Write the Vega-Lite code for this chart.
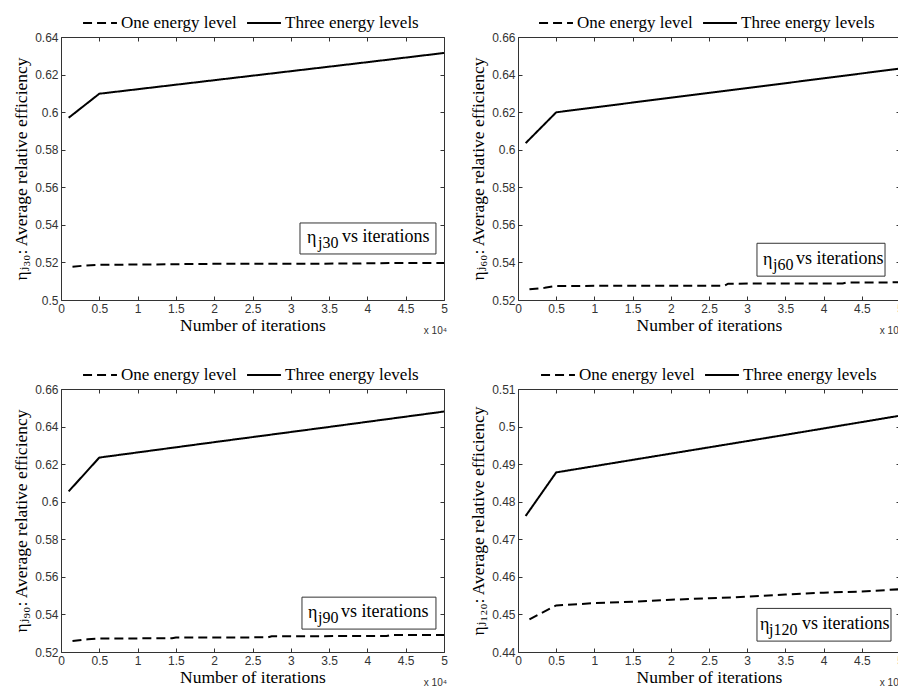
{
  "$schema": "https://vega.github.io/schema/vega-lite/v6.json",
  "padding": {"left": 12, "top": 4, "right": 0, "bottom": 0},
  "background": "white",
  "datasets": {
    "j30": [
      {"iterations": 1500, "efficiency": 0.5177, "series": "One energy level"},
      {"iterations": 3000, "efficiency": 0.5183, "series": "One energy level"},
      {"iterations": 5000, "efficiency": 0.5187, "series": "One energy level"},
      {"iterations": 10000, "efficiency": 0.5189, "series": "One energy level"},
      {"iterations": 15500, "efficiency": 0.519, "series": "One energy level"},
      {"iterations": 16000, "efficiency": 0.5192, "series": "One energy level"},
      {"iterations": 27000, "efficiency": 0.5193, "series": "One energy level"},
      {"iterations": 39000, "efficiency": 0.5194, "series": "One energy level"},
      {"iterations": 39500, "efficiency": 0.5196, "series": "One energy level"},
      {"iterations": 50000, "efficiency": 0.5197, "series": "One energy level"},
      {"iterations": 1000, "efficiency": 0.597, "series": "Three energy levels"},
      {"iterations": 5000, "efficiency": 0.6098, "series": "Three energy levels"},
      {"iterations": 10000, "efficiency": 0.6122, "series": "Three energy levels"},
      {"iterations": 20000, "efficiency": 0.617, "series": "Three energy levels"},
      {"iterations": 30000, "efficiency": 0.6218, "series": "Three energy levels"},
      {"iterations": 40000, "efficiency": 0.6266, "series": "Three energy levels"},
      {"iterations": 50000, "efficiency": 0.6315, "series": "Three energy levels"}
    ],
    "j60": [
      {"iterations": 1500, "efficiency": 0.5257, "series": "One energy level"},
      {"iterations": 3500, "efficiency": 0.5265, "series": "One energy level"},
      {"iterations": 5000, "efficiency": 0.5275, "series": "One energy level"},
      {"iterations": 27000, "efficiency": 0.5276, "series": "One energy level"},
      {"iterations": 27500, "efficiency": 0.5287, "series": "One energy level"},
      {"iterations": 42500, "efficiency": 0.5288, "series": "One energy level"},
      {"iterations": 43000, "efficiency": 0.5293, "series": "One energy level"},
      {"iterations": 50000, "efficiency": 0.5294, "series": "One energy level"},
      {"iterations": 1000, "efficiency": 0.6035, "series": "Three energy levels"},
      {"iterations": 5000, "efficiency": 0.6199, "series": "Three energy levels"},
      {"iterations": 20000, "efficiency": 0.6277, "series": "Three energy levels"},
      {"iterations": 35000, "efficiency": 0.6354, "series": "Three energy levels"},
      {"iterations": 50000, "efficiency": 0.6432, "series": "Three energy levels"}
    ],
    "j90": [
      {"iterations": 1500, "efficiency": 0.5258, "series": "One energy level"},
      {"iterations": 3500, "efficiency": 0.5268, "series": "One energy level"},
      {"iterations": 5000, "efficiency": 0.5272, "series": "One energy level"},
      {"iterations": 14500, "efficiency": 0.5273, "series": "One energy level"},
      {"iterations": 15000, "efficiency": 0.5277, "series": "One energy level"},
      {"iterations": 27000, "efficiency": 0.5278, "series": "One energy level"},
      {"iterations": 27500, "efficiency": 0.5284, "series": "One energy level"},
      {"iterations": 42500, "efficiency": 0.5285, "series": "One energy level"},
      {"iterations": 43000, "efficiency": 0.529, "series": "One energy level"},
      {"iterations": 50000, "efficiency": 0.5291, "series": "One energy level"},
      {"iterations": 1000, "efficiency": 0.6055, "series": "Three energy levels"},
      {"iterations": 5000, "efficiency": 0.6235, "series": "Three energy levels"},
      {"iterations": 20000, "efficiency": 0.6317, "series": "Three energy levels"},
      {"iterations": 35000, "efficiency": 0.6398, "series": "Three energy levels"},
      {"iterations": 50000, "efficiency": 0.648, "series": "Three energy levels"}
    ],
    "j120": [
      {"iterations": 1500, "efficiency": 0.4487, "series": "One energy level"},
      {"iterations": 5000, "efficiency": 0.4524, "series": "One energy level"},
      {"iterations": 10000, "efficiency": 0.453, "series": "One energy level"},
      {"iterations": 15000, "efficiency": 0.4534, "series": "One energy level"},
      {"iterations": 20000, "efficiency": 0.4539, "series": "One energy level"},
      {"iterations": 25000, "efficiency": 0.4543, "series": "One energy level"},
      {"iterations": 30000, "efficiency": 0.4547, "series": "One energy level"},
      {"iterations": 35000, "efficiency": 0.4553, "series": "One energy level"},
      {"iterations": 40000, "efficiency": 0.4558, "series": "One energy level"},
      {"iterations": 45000, "efficiency": 0.4561, "series": "One energy level"},
      {"iterations": 50000, "efficiency": 0.4567, "series": "One energy level"},
      {"iterations": 1000, "efficiency": 0.4762, "series": "Three energy levels"},
      {"iterations": 5000, "efficiency": 0.4878, "series": "Three energy levels"},
      {"iterations": 20000, "efficiency": 0.4928, "series": "Three energy levels"},
      {"iterations": 35000, "efficiency": 0.4978, "series": "Three energy levels"},
      {"iterations": 50000, "efficiency": 0.5029, "series": "Three energy levels"}
    ]
  },
  "columns": 2,
  "bounds": "flush",
  "spacing": {"row": 89, "column": 74},
  "resolve": {"scale": {"x": "independent", "y": "independent", "strokeDash": "independent"}, "legend": {"strokeDash": "independent"}},
  "concat": [
    {
      "width": 383, "height": 263,
      "resolve": {"axis": {"x": "independent", "y": "independent"}},
      "layer": [
        {
          "data": {"name": "j30"},
          "mark": {"type": "line", "color": "black", "strokeWidth": 2},
          "encoding": {
            "x": {"field": "iterations", "type": "quantitative", "scale": {"domain": [0, 50000], "nice": false, "zero": false},
                  "axis": {"orient": "bottom", "values": [0,5000,10000,15000,20000,25000,30000,35000,40000,45000,50000], "labelExpr": "datum.value/10000", "title": "Number of iterations"}},
            "y": {"field": "efficiency", "type": "quantitative", "scale": {"domain": [0.5, 0.64], "nice": false, "zero": false},
                  "axis": {"orient": "left", "values": [0.5,0.52,0.54,0.56,0.58,0.6,0.62,0.64], "format": ".2~f", "title": "ηⱼ₃₀: Average relative efficiency"}},
            "strokeDash": {"field": "series", "type": "nominal", "scale": {"domain": ["One energy level", "Three energy levels"], "range": [[9, 5], [1, 0]]},
                  "legend": {"orient": "none", "legendX": 21, "legendY": -32, "direction": "horizontal", "title": null}}
          }
        },
        {
          "data": {"name": "j30"},
          "mark": {"type": "line", "opacity": 0},
          "encoding": {
            "x": {"field": "iterations", "type": "quantitative", "axis": {"orient": "top", "values": [0,5000,10000,15000,20000,25000,30000,35000,40000,45000,50000], "labels": false, "title": null}},
            "y": {"field": "efficiency", "type": "quantitative", "axis": {"orient": "right", "values": [0.5,0.52,0.54,0.56,0.58,0.6,0.62,0.64], "labels": false, "title": null}},
            "detail": {"field": "series"}
          }
        },
        {
          "data": {"values": [{}]},
          "mark": {"type": "rect", "fill": "white", "stroke": "#333333", "strokeWidth": 1},
          "encoding": {
            "x": {"datum": 31200, "type": "quantitative", "axis": null}, "x2": {"datum": 48950},
            "y": {"datum": 0.541, "type": "quantitative", "axis": null}, "y2": {"datum": 0.5245}
          }
        },
        {
          "data": {"values": [{"t": "η"}]},
          "mark": {"type": "text", "align": "left", "baseline": "alphabetic", "dx": 7, "dy": 5, "font": "Liberation Serif, Times New Roman, DejaVu Serif, serif", "fontSize": 18, "color": "black"},
          "encoding": {"x": {"datum": 31200, "type": "quantitative", "axis": null}, "y": {"datum": 0.53275, "type": "quantitative", "axis": null}, "text": {"field": "t"}}
        },
        {
          "data": {"values": [{"t": "j30"}]},
          "mark": {"type": "text", "align": "left", "baseline": "alphabetic", "dx": 18, "dy": 10, "font": "Liberation Serif, Times New Roman, DejaVu Serif, serif", "fontSize": 16, "color": "black"},
          "encoding": {"x": {"datum": 31200, "type": "quantitative", "axis": null}, "y": {"datum": 0.53275, "type": "quantitative", "axis": null}, "text": {"field": "t"}}
        },
        {
          "data": {"values": [{"t": "vs iterations"}]},
          "mark": {"type": "text", "align": "left", "baseline": "alphabetic", "dx": 42, "dy": 4, "font": "Liberation Serif, Times New Roman, DejaVu Serif, serif", "fontSize": 18, "color": "black"},
          "encoding": {"x": {"datum": 31200, "type": "quantitative", "axis": null}, "y": {"datum": 0.53275, "type": "quantitative", "axis": null}, "text": {"field": "t"}}
        },
        {
          "data": {"values": [{"t": "x 10⁴"}]},
          "mark": {"type": "text", "align": "right", "baseline": "alphabetic", "dx": 3, "dy": 34, "font": "Liberation Sans", "fontSize": 10, "color": "#333333"},
          "encoding": {"x": {"datum": 50000, "type": "quantitative", "axis": null}, "y": {"datum": 0.5, "type": "quantitative", "axis": null}, "text": {"field": "t"}}
        }
      ]
    },
    {
      "width": 382, "height": 263,
      "resolve": {"axis": {"x": "independent", "y": "independent"}},
      "layer": [
        {
          "data": {"name": "j60"},
          "mark": {"type": "line", "color": "black", "strokeWidth": 2},
          "encoding": {
            "x": {"field": "iterations", "type": "quantitative", "scale": {"domain": [0, 50000], "nice": false, "zero": false},
                  "axis": {"orient": "bottom", "values": [0,5000,10000,15000,20000,25000,30000,35000,40000,45000,50000], "labelExpr": "datum.value/10000", "title": "Number of iterations"}},
            "y": {"field": "efficiency", "type": "quantitative", "scale": {"domain": [0.52, 0.66], "nice": false, "zero": false},
                  "axis": {"orient": "left", "values": [0.52,0.54,0.56,0.58,0.6,0.62,0.64,0.66], "format": ".2~f", "title": "ηⱼ₆₀: Average relative efficiency"}},
            "strokeDash": {"field": "series", "type": "nominal", "scale": {"domain": ["One energy level", "Three energy levels"], "range": [[9, 5], [1, 0]]},
                  "legend": {"orient": "none", "legendX": 20, "legendY": -32, "direction": "horizontal", "title": null}}
          }
        },
        {
          "data": {"name": "j60"},
          "mark": {"type": "line", "opacity": 0},
          "encoding": {
            "x": {"field": "iterations", "type": "quantitative", "axis": {"orient": "top", "values": [0,5000,10000,15000,20000,25000,30000,35000,40000,45000,50000], "labels": false, "title": null}},
            "y": {"field": "efficiency", "type": "quantitative", "axis": {"orient": "right", "values": [0.52,0.54,0.56,0.58,0.6,0.62,0.64,0.66], "labels": false, "title": null}},
            "detail": {"field": "series"}
          }
        },
        {
          "data": {"values": [{}]},
          "mark": {"type": "rect", "fill": "white", "stroke": "#333333", "strokeWidth": 1},
          "encoding": {
            "x": {"datum": 31280, "type": "quantitative", "axis": null}, "x2": {"datum": 48040},
            "y": {"datum": 0.5502, "type": "quantitative", "axis": null}, "y2": {"datum": 0.5327}
          }
        },
        {
          "data": {"values": [{"t": "η"}]},
          "mark": {"type": "text", "align": "left", "baseline": "alphabetic", "dx": 6, "dy": 5, "font": "Liberation Serif, Times New Roman, DejaVu Serif, serif", "fontSize": 18, "color": "black"},
          "encoding": {"x": {"datum": 31280, "type": "quantitative", "axis": null}, "y": {"datum": 0.54145, "type": "quantitative", "axis": null}, "text": {"field": "t"}}
        },
        {
          "data": {"values": [{"t": "j60"}]},
          "mark": {"type": "text", "align": "left", "baseline": "alphabetic", "dx": 16, "dy": 10, "font": "Liberation Serif, Times New Roman, DejaVu Serif, serif", "fontSize": 16, "color": "black"},
          "encoding": {"x": {"datum": 31280, "type": "quantitative", "axis": null}, "y": {"datum": 0.54145, "type": "quantitative", "axis": null}, "text": {"field": "t"}}
        },
        {
          "data": {"values": [{"t": "vs iterations"}]},
          "mark": {"type": "text", "align": "left", "baseline": "alphabetic", "dx": 39, "dy": 4, "font": "Liberation Serif, Times New Roman, DejaVu Serif, serif", "fontSize": 18, "color": "black"},
          "encoding": {"x": {"datum": 31280, "type": "quantitative", "axis": null}, "y": {"datum": 0.54145, "type": "quantitative", "axis": null}, "text": {"field": "t"}}
        },
        {
          "data": {"values": [{"t": "x 10⁴"}]},
          "mark": {"type": "text", "align": "right", "baseline": "alphabetic", "dx": 3, "dy": 34, "font": "Liberation Sans", "fontSize": 10, "color": "#333333"},
          "encoding": {"x": {"datum": 50000, "type": "quantitative", "axis": null}, "y": {"datum": 0.52, "type": "quantitative", "axis": null}, "text": {"field": "t"}}
        }
      ]
    },
    {
      "width": 383, "height": 263,
      "resolve": {"axis": {"x": "independent", "y": "independent"}},
      "layer": [
        {
          "data": {"name": "j90"},
          "mark": {"type": "line", "color": "black", "strokeWidth": 2},
          "encoding": {
            "x": {"field": "iterations", "type": "quantitative", "scale": {"domain": [0, 50000], "nice": false, "zero": false},
                  "axis": {"orient": "bottom", "values": [0,5000,10000,15000,20000,25000,30000,35000,40000,45000,50000], "labelExpr": "datum.value/10000", "title": "Number of iterations"}},
            "y": {"field": "efficiency", "type": "quantitative", "scale": {"domain": [0.52, 0.66], "nice": false, "zero": false},
                  "axis": {"orient": "left", "values": [0.52,0.54,0.56,0.58,0.6,0.62,0.64,0.66], "format": ".2~f", "title": "ηⱼ₉₀: Average relative efficiency"}},
            "strokeDash": {"field": "series", "type": "nominal", "scale": {"domain": ["One energy level", "Three energy levels"], "range": [[9, 5], [1, 0]]},
                  "legend": {"orient": "none", "legendX": 21, "legendY": -32, "direction": "horizontal", "title": null}}
          }
        },
        {
          "data": {"name": "j90"},
          "mark": {"type": "line", "opacity": 0},
          "encoding": {
            "x": {"field": "iterations", "type": "quantitative", "axis": {"orient": "top", "values": [0,5000,10000,15000,20000,25000,30000,35000,40000,45000,50000], "labels": false, "title": null}},
            "y": {"field": "efficiency", "type": "quantitative", "axis": {"orient": "right", "values": [0.52,0.54,0.56,0.58,0.6,0.62,0.64,0.66], "labels": false, "title": null}},
            "detail": {"field": "series"}
          }
        },
        {
          "data": {"values": [{}]},
          "mark": {"type": "rect", "fill": "white", "stroke": "#333333", "strokeWidth": 1},
          "encoding": {
            "x": {"datum": 31460, "type": "quantitative", "axis": null}, "x2": {"datum": 48950},
            "y": {"datum": 0.5492, "type": "quantitative", "axis": null}, "y2": {"datum": 0.5322}
          }
        },
        {
          "data": {"values": [{"t": "η"}]},
          "mark": {"type": "text", "align": "left", "baseline": "alphabetic", "dx": 6, "dy": 5, "font": "Liberation Serif, Times New Roman, DejaVu Serif, serif", "fontSize": 18, "color": "black"},
          "encoding": {"x": {"datum": 31460, "type": "quantitative", "axis": null}, "y": {"datum": 0.5407, "type": "quantitative", "axis": null}, "text": {"field": "t"}}
        },
        {
          "data": {"values": [{"t": "j90"}]},
          "mark": {"type": "text", "align": "left", "baseline": "alphabetic", "dx": 16, "dy": 10, "font": "Liberation Serif, Times New Roman, DejaVu Serif, serif", "fontSize": 16, "color": "black"},
          "encoding": {"x": {"datum": 31460, "type": "quantitative", "axis": null}, "y": {"datum": 0.5407, "type": "quantitative", "axis": null}, "text": {"field": "t"}}
        },
        {
          "data": {"values": [{"t": "vs iterations"}]},
          "mark": {"type": "text", "align": "left", "baseline": "alphabetic", "dx": 39, "dy": 4, "font": "Liberation Serif, Times New Roman, DejaVu Serif, serif", "fontSize": 18, "color": "black"},
          "encoding": {"x": {"datum": 31460, "type": "quantitative", "axis": null}, "y": {"datum": 0.5407, "type": "quantitative", "axis": null}, "text": {"field": "t"}}
        },
        {
          "data": {"values": [{"t": "x 10⁴"}]},
          "mark": {"type": "text", "align": "right", "baseline": "alphabetic", "dx": 3, "dy": 34, "font": "Liberation Sans", "fontSize": 10, "color": "#333333"},
          "encoding": {"x": {"datum": 50000, "type": "quantitative", "axis": null}, "y": {"datum": 0.52, "type": "quantitative", "axis": null}, "text": {"field": "t"}}
        }
      ]
    },
    {
      "width": 382, "height": 263,
      "resolve": {"axis": {"x": "independent", "y": "independent"}},
      "layer": [
        {
          "data": {"name": "j120"},
          "mark": {"type": "line", "color": "black", "strokeWidth": 2},
          "encoding": {
            "x": {"field": "iterations", "type": "quantitative", "scale": {"domain": [0, 50000], "nice": false, "zero": false},
                  "axis": {"orient": "bottom", "values": [0,5000,10000,15000,20000,25000,30000,35000,40000,45000,50000], "labelExpr": "datum.value/10000", "title": "Number of iterations"}},
            "y": {"field": "efficiency", "type": "quantitative", "scale": {"domain": [0.44, 0.51], "nice": false, "zero": false},
                  "axis": {"orient": "left", "values": [0.44,0.45,0.46,0.47,0.48,0.49,0.5,0.51], "format": ".2~f", "title": "ηⱼ₁₂₀: Average relative efficiency"}},
            "strokeDash": {"field": "series", "type": "nominal", "scale": {"domain": ["One energy level", "Three energy levels"], "range": [[9, 5], [1, 0]]},
                  "legend": {"orient": "none", "legendX": 22, "legendY": -32, "direction": "horizontal", "title": null}}
          }
        },
        {
          "data": {"name": "j120"},
          "mark": {"type": "line", "opacity": 0},
          "encoding": {
            "x": {"field": "iterations", "type": "quantitative", "axis": {"orient": "top", "values": [0,5000,10000,15000,20000,25000,30000,35000,40000,45000,50000], "labels": false, "title": null}},
            "y": {"field": "efficiency", "type": "quantitative", "axis": {"orient": "right", "values": [0.44,0.45,0.46,0.47,0.48,0.49,0.5,0.51], "labels": false, "title": null}},
            "detail": {"field": "series"}
          }
        },
        {
          "data": {"values": [{}]},
          "mark": {"type": "rect", "fill": "white", "stroke": "#333333", "strokeWidth": 1},
          "encoding": {
            "x": {"datum": 31280, "type": "quantitative", "axis": null}, "x2": {"datum": 48820},
            "y": {"datum": 0.4516, "type": "quantitative", "axis": null}, "y2": {"datum": 0.4429}
          }
        },
        {
          "data": {"values": [{"t": "η"}]},
          "mark": {"type": "text", "align": "left", "baseline": "alphabetic", "dx": 3, "dy": 5, "font": "Liberation Serif, Times New Roman, DejaVu Serif, serif", "fontSize": 18, "color": "black"},
          "encoding": {"x": {"datum": 31280, "type": "quantitative", "axis": null}, "y": {"datum": 0.44725, "type": "quantitative", "axis": null}, "text": {"field": "t"}}
        },
        {
          "data": {"values": [{"t": "j120"}]},
          "mark": {"type": "text", "align": "left", "baseline": "alphabetic", "dx": 12, "dy": 10, "font": "Liberation Serif, Times New Roman, DejaVu Serif, serif", "fontSize": 16, "color": "black"},
          "encoding": {"x": {"datum": 31280, "type": "quantitative", "axis": null}, "y": {"datum": 0.44725, "type": "quantitative", "axis": null}, "text": {"field": "t"}}
        },
        {
          "data": {"values": [{"t": "vs iterations"}]},
          "mark": {"type": "text", "align": "left", "baseline": "alphabetic", "dx": 45, "dy": 4, "font": "Liberation Serif, Times New Roman, DejaVu Serif, serif", "fontSize": 18, "color": "black"},
          "encoding": {"x": {"datum": 31280, "type": "quantitative", "axis": null}, "y": {"datum": 0.44725, "type": "quantitative", "axis": null}, "text": {"field": "t"}}
        },
        {
          "data": {"values": [{"t": "x 10⁴"}]},
          "mark": {"type": "text", "align": "right", "baseline": "alphabetic", "dx": 3, "dy": 34, "font": "Liberation Sans", "fontSize": 10, "color": "#333333"},
          "encoding": {"x": {"datum": 50000, "type": "quantitative", "axis": null}, "y": {"datum": 0.44, "type": "quantitative", "axis": null}, "text": {"field": "t"}}
        }
      ]
    }
  ],
  "config": {
    "view": {"stroke": "#333333", "strokeWidth": 1},
    "axis": {
      "domain": false, "grid": false, "tickColor": "#333333", "tickSize": -4, "tickWidth": 1,
      "labelFont": "Liberation Sans", "labelFontSize": 12, "labelColor": "#333333", "labelPadding": 7,
      "labelFlush": false, "labelOverlap": false,
      "titleFont": "Liberation Serif, Times New Roman, DejaVu Serif, serif", "titleFontSize": 17.5, "titleFontWeight": "normal", "titleColor": "black"
    },
    "axisX": {"titlePadding": 2},
    "axisY": {"labelPadding": 7, "titlePadding": 4},
    "legend": {
      "symbolType": "stroke", "symbolSize": 1150, "symbolStrokeWidth": 2, "symbolStrokeColor": "black",
      "labelFont": "Liberation Serif, Times New Roman, DejaVu Serif, serif", "labelFontSize": 17, "labelColor": "black", "labelOffset": 3,
      "columnPadding": 6, "labelLimit": 0, "padding": 0
    }
  }
}
